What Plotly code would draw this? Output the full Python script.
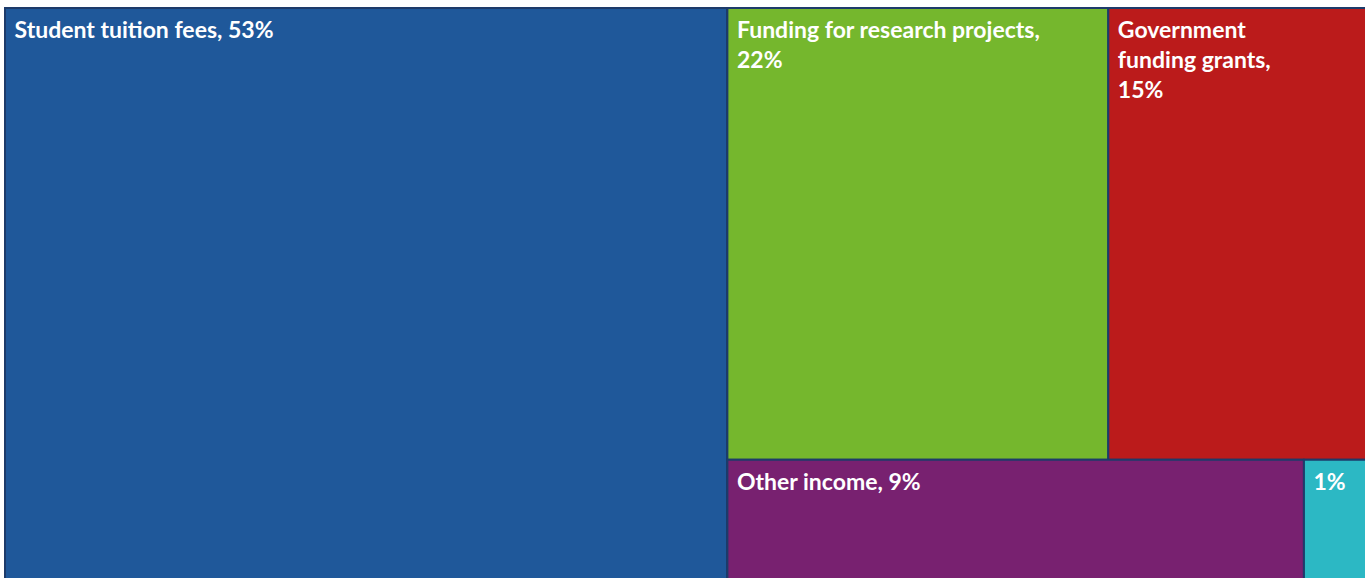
import plotly.graph_objects as go

# Income sources (percent of total)
categories = ["Student tuition fees", "Funding for research projects",
              "Government funding grants", "Other income", "Donations"]
values = [53, 22, 15, 9, 1]
label_lines = [["Student tuition fees, 53%"],
               ["Funding for research projects,", "22%"],
               ["Government", "funding grants,", "15%"],
               ["Other income, 9%"],
               ["1%"]]
colors = ["#1f589a", "#75b72d", "#bb1b1b", "#782170", "#2cb8c4"]

LEAD = '<span style="font-size:27px">\u00a0</span>'
labels_text = ["<br>".join(LEAD + ln for ln in lines) for lines in label_lines]

# hierarchy groups used only to reproduce the row layout
ids = ["total", "right", "toprow", "bottomrow"] + categories
parents = ["", "total", "right", "right", "total", "toprow", "toprow", "bottomrow", "bottomrow"]
vals = [sum(values), sum(values[1:]), values[1] + values[2], values[3] + values[4]] + values
texts = ["", "", "", ""] + labels_text
border = "#1d3b6a"
node_colors = [border] * 4 + colors

fig = go.Figure(go.Treemap(
    ids=ids,
    labels=ids,
    parents=parents,
    values=vals,
    branchvalues="total",
    text=texts,
    texttemplate="%{text}",
    textposition="top left",
    textfont=dict(family="Lato", size=23, color="white", weight="bold"),
    marker=dict(colors=node_colors, line=dict(color=border, width=2),
                pad=dict(t=0, l=0, r=0, b=0)),
    tiling=dict(packing="slice-dice", pad=0),
    pathbar=dict(visible=False),
    hoverinfo="skip",
    sort=True,
))
fig.update_layout(
    width=1368, height=582,
    margin=dict(l=5, t=8, r=0, b=0),
    paper_bgcolor="white",
    uniformtext=dict(minsize=23, mode="show"),
)
fig.write_html(
    "out.html",
    post_script="document.documentElement.style.overflow='hidden';document.body.style.overflow='hidden';document.body.style.margin='0';",
)
